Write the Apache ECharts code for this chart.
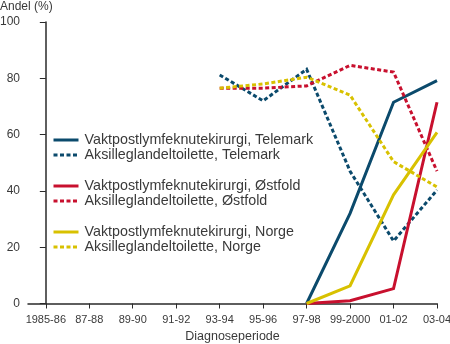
<!DOCTYPE html>
<html>
<head>
<meta charset="utf-8">
<script src="https://cdn.jsdelivr.net/npm/echarts@6/dist/echarts.min.js"></script>
<style>
  html, body { margin: 0; padding: 0; background: #fff; }
  #chart { width: 450px; height: 344px; }
</style>
</head>
<body>
<div id="chart"></div>
<script>
// Diagnosis periods (x axis)
var periods = ['1985-86', '87-88', '89-90', '91-92', '93-94', '95-96', '97-98', '99-2000', '01-02', '03-04'];
var yTicks = [0, 20, 40, 60, 80, 100];

// Share (%) per period; null = not recorded
var sentinelTelemark = [null, null, null, null, null, null, 0, 32, 71.5, 79.2];
var axillaryTelemark = [null, null, null, null, 81.2, 72, 83.2, 47, 22.2, 40.3];
var sentinelOstfold  = [null, null, null, null, null, null, 0, 1, 5.3, 71.5];
var axillaryOstfold  = [null, null, null, null, 76.5, 76.5, 77.3, 84.6, 82.2, 47];
var sentinelNorge    = [null, null, null, null, null, null, 0, 6.3, 38.6, 60.8];
var axillaryNorge    = [null, null, null, null, 76.5, 78, 80.4, 74, 50.4, 41.4];

var BLUE = '#0b4a6c', RED = '#c8102e', YELLOW = '#d8c100';
var TEXT = '#3a3a3a', AXIS = '#2a2a2a';
var DASH = [4, 2.5];

function toPairs(arr) {
  return arr.map(function (v, i) { return [i, v]; });
}
function lineSeries(name, values, color, dashed) {
  return {
    name: name,
    type: 'line',
    data: toPairs(values),
    symbol: 'none',
    connectNulls: false,
    lineStyle: { color: color, width: 3, type: dashed ? DASH : 'solid', cap: 'butt', join: 'miter' },
    itemStyle: { color: color },
    emphasis: { disabled: true },
    animation: false
  };
}

var names = [
  'Vaktpostlymfeknutekirurgi, Telemark', 'Aksilleglandeltoilette, Telemark',
  'Vaktpostlymfeknutekirurgi, Østfold', 'Aksilleglandeltoilette, Østfold',
  'Vaktpostlymfeknutekirurgi, Norge', 'Aksilleglandeltoilette, Norge'
];

// One legend block per region, so the blocks can be spaced apart
function legendGroup(top, data) {
  return {
    orient: 'vertical',
    left: 52,
    top: top,
    padding: 0,
    itemWidth: 25,
    itemHeight: 15,
    itemGap: 0,
    selectedMode: false,
    itemStyle: { opacity: 0 },
    lineStyle: { width: 3 },
    textStyle: { fontFamily: 'Liberation Sans', fontSize: 14.3, lineHeight: 15, color: TEXT, padding: [0, 0, 0, 1] },
    data: data
  };
}

var chart = echarts.init(document.getElementById('chart'));
chart.setOption({
  animation: false,
  backgroundColor: '#fff',
  textStyle: { fontFamily: 'Liberation Sans' },
  title: {
    text: 'Andel (%)',
    left: 0,
    top: 1,
    padding: 0,
    textStyle: { fontSize: 12, fontWeight: 'normal', color: TEXT, fontFamily: 'Liberation Sans' }
  },
  grid: { left: 28, right: 13, top: 22, bottom: 40.5, containLabel: false, outerBoundsMode: 'none' },
  legend: [
    legendGroup(132.5, [names[0], names[1]]),
    legendGroup(178.5, [names[2], names[3]]),
    legendGroup(224.5, [names[4], names[5]])
  ],
  xAxis: {
    type: 'value',
    min: -0.41,
    max: 9,
    name: 'Diagnoseperiode',
    nameLocation: 'middle',
    nameGap: 26,
    nameTextStyle: { fontSize: 12.5, color: TEXT },
    axisLine: { show: true, lineStyle: { color: AXIS, width: 1.5 } },
    axisTick: { show: true, length: 5, lineStyle: { color: AXIS, width: 1 }, customValues: periods.map(function (p, i) { return i; }) },
    axisLabel: {
      fontSize: 11, color: TEXT, margin: 11,
      customValues: periods.map(function (p, i) { return i; }),
      formatter: function (v) { return periods[Math.round(v)]; }
    },
    splitLine: { show: false }
  },
  yAxis: {
    type: 'value',
    min: 0,
    max: 100,
    interval: 20,
    axisLine: { show: true, lineStyle: { color: AXIS, width: 1.5 } },
    axisTick: { show: true, length: 6, lineStyle: { color: AXIS, width: 1 } },
    axisLabel: {
      fontSize: 12, color: TEXT, margin: 8,
      formatter: function (v) { return yTicks.indexOf(v) >= 0 ? String(v) : ''; }
    },
    splitLine: { show: false }
  },
  series: [
    lineSeries(names[0], sentinelTelemark, BLUE, false),
    lineSeries(names[1], axillaryTelemark, BLUE, true),
    lineSeries(names[2], sentinelOstfold, RED, false),
    lineSeries(names[3], axillaryOstfold, RED, true),
    lineSeries(names[4], sentinelNorge, YELLOW, false),
    lineSeries(names[5], axillaryNorge, YELLOW, true)
  ]
});
</script>
</body>
</html>
